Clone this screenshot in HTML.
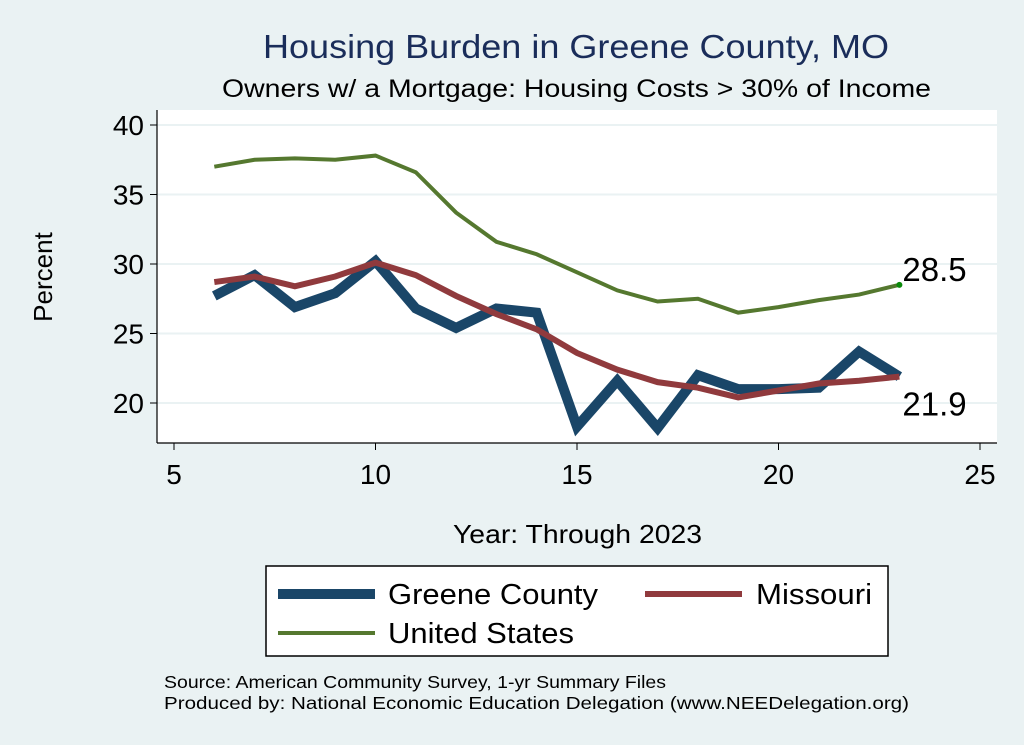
<!DOCTYPE html>
<html><head><meta charset="utf-8"><style>
body{margin:0;background:#eaf2f3;}
svg{display:block;font-family:"Liberation Sans",sans-serif;}
</style></head><body>
<svg id="chart" width="1024" height="745">
<rect x="0" y="0" width="1024" height="745" fill="#eaf2f3"/>
<text x="263" y="58" font-size="33" fill="#1a2d5a" textLength="626" lengthAdjust="spacingAndGlyphs">Housing Burden in Greene County, MO</text>
<text x="222" y="97" font-size="25" fill="#000" textLength="709" lengthAdjust="spacingAndGlyphs">Owners w/ a Mortgage: Housing Costs &gt; 30% of Income</text>
<rect x="157" y="110" width="840" height="333" fill="#fff"/>
<g id="grid"></g><g id="axes"></g><g id="series"></g>
<text x="52" y="277" font-size="26" text-anchor="middle" transform="rotate(-90 52 277)">Percent</text>
<text x="453" y="543" font-size="26" textLength="249" lengthAdjust="spacingAndGlyphs">Year: Through 2023</text>
<g>
<rect x="266" y="566" width="622" height="90" fill="#fff" stroke="#000" stroke-width="1.5"/>
<line x1="278" y1="594" x2="375" y2="594" stroke="#1a4668" stroke-width="10"/>
<text x="388" y="604" font-size="29" textLength="210" lengthAdjust="spacingAndGlyphs">Greene County</text>
<line x1="645" y1="594" x2="742" y2="594" stroke="#903a3d" stroke-width="6"/>
<text x="756" y="604" font-size="29" textLength="116" lengthAdjust="spacingAndGlyphs">Missouri</text>
<line x1="278" y1="633" x2="375" y2="633" stroke="#55782f" stroke-width="4"/>
<text x="388" y="643" font-size="29" textLength="186" lengthAdjust="spacingAndGlyphs">United States</text>
</g>
<text x="164" y="688" font-size="17.5" textLength="502" lengthAdjust="spacingAndGlyphs">Source: American Community Survey, 1-yr Summary Files</text>
<text x="164" y="709" font-size="17.5" textLength="745" lengthAdjust="spacingAndGlyphs">Produced by: National Economic Education Delegation (www.NEEDelegation.org)</text>
</svg>
<script>
const years=[6,7,8,9,10,11,12,13,14,15,16,17,18,19,20,21,22,23];
const greene=[27.7,29.2,26.9,27.9,30.2,26.8,25.4,26.8,26.5,18.3,21.6,18.2,22.0,21.0,21.0,21.1,23.7,21.9];
const missouri=[28.7,29.1,28.4,29.1,30.1,29.2,27.7,26.4,25.3,23.6,22.4,21.5,21.1,20.4,20.9,21.4,21.6,21.9];
const us=[37.0,37.5,37.6,37.5,37.8,36.6,33.7,31.6,30.7,29.4,28.1,27.3,27.5,26.5,26.9,27.4,27.8,28.5];
const xTicks=[5,10,15,20,25];
const yTicks=[20,25,30,35,40];
const NS="http://www.w3.org/2000/svg";
function X(v){return 174+(v-5)*40.3;}
function Y(v){return 403-(v-20)*13.9;}
function mk(t,a,p){const e=document.createElementNS(NS,t);for(const k in a)e.setAttribute(k,a[k]);p.appendChild(e);return e;}
const grid=document.getElementById('grid'),axes=document.getElementById('axes'),ser=document.getElementById('series');
mk('line',{x1:157,y1:110,x2:157,y2:443,stroke:'#000','stroke-width':1.2},axes);
mk('line',{x1:157,y1:443,x2:997,y2:443,stroke:'#000','stroke-width':1.2},axes);
yTicks.forEach(v=>{
 const g=mk('line',{x1:157,y1:Y(v),x2:997,y2:Y(v),stroke:'#eaf2f3','stroke-width':2},grid);
 
 
 mk('line',{x1:150,y1:Y(v),x2:157,y2:Y(v),stroke:'#000'},axes);
 const t=mk('text',{x:144,y:Y(v)+10,'font-size':28,'text-anchor':'end'},axes);t.textContent=v;
 
 
});
xTicks.forEach(v=>{
 mk('line',{x1:X(v),y1:443,x2:X(v),y2:450,stroke:'#000'},axes);
 const t=mk('text',{x:X(v),y:484,'font-size':28,'text-anchor':'middle'},axes);t.textContent=v;
 
 
});
function line(vals,color,w,name){
 const p=mk('polyline',{points:vals.map((v,i)=>X(years[i])+','+Y(v)).join(' '),fill:'none',stroke:color,'stroke-width':w,'stroke-linejoin':'miter'},ser);
 
 
}
line(us,'#55782f',4,'line-united-states');
line(greene,'#1a4668',10,'line-greene-county');
line(missouri,'#903a3d',6,'line-missouri');
const last=years.length-1;
const d=mk('circle',{cx:X(years[last]),cy:Y(us[last]),r:3,fill:'#0a8a0a'},ser);


const l1=mk('text',{x:X(years[last])+3,y:Y(us[last])-4,'font-size':33},ser);l1.textContent=us[last].toFixed(1);


const l2=mk('text',{x:X(years[last])+3,y:Y(greene[last])+39,'font-size':33},ser);l2.textContent=greene[last].toFixed(1);


</script>
</body></html>
